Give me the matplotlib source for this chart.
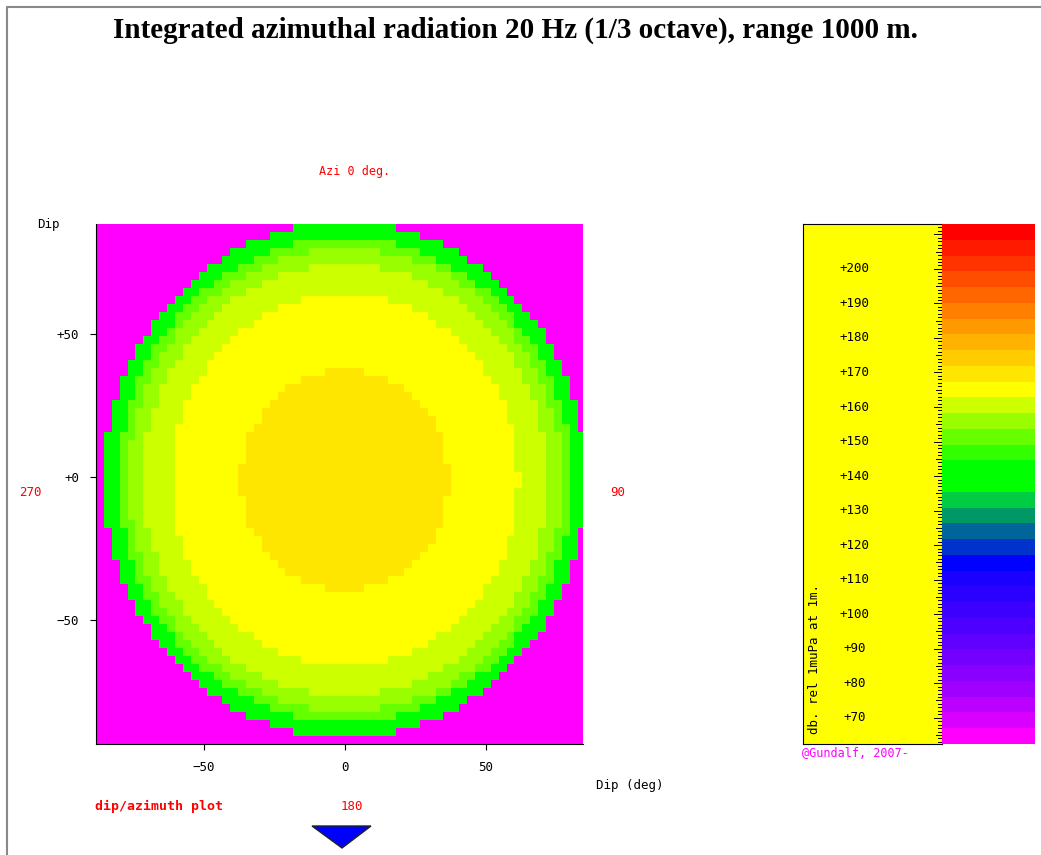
import numpy as np
import matplotlib
matplotlib.use("Agg")
import matplotlib.pyplot as plt
from matplotlib.colors import ListedColormap, BoundaryNorm
from matplotlib.patches import Polygon

# colour bands of the scale, top (loud) to bottom (quiet)
band_colors = ["#ff0000", "#ff1a00", "#ff3300", "#ff4d00", "#ff6600", "#ff8000",
               "#ff9900", "#ffb300", "#ffcc00", "#ffe600", "#ffff00", "#ccff00",
               "#99ff00", "#66ff00", "#33ff00", "#00ff00", "#00ff00", "#00cc44",
               "#009966", "#006699", "#0033cc", "#0000ff", "#1a00ff", "#2a00ff",
               "#3c00ff", "#4d00ff", "#6000ff", "#7300ff", "#8800ff", "#a000ff",
               "#bb00ff", "#d800ff", "#ff00ff"]
scale_top = 213.0
scale_bottom = 62.4
scale_labels = [70, 80, 90, 100, 110, 120, 130, 140, 150, 160, 170, 180, 190, 200]

# rings of the radiation pattern (fraction of the disk radius) and their level in dB
ring_radius = [0.43, 0.72, 0.84, 0.90, 0.94, 1.0]
ring_level = [169.0, 165.0, 160.0, 156.0, 151.0, 142.0]
outside_level = 64.0
disk_a, disk_b = 85.5, 90.0
cell = 2.8

ncol = len(band_colors)
edges = np.linspace(scale_bottom, scale_top, ncol + 1)
cmap = ListedColormap(band_colors[::-1])
norm = BoundaryNorm(edges, cmap.N)

xs = np.arange(-88.3, 84.4 + cell, cell)
ys = np.arange(-93.4, 88.5 + cell, cell)
X, Y = np.meshgrid(xs[:-1] + cell / 2, ys[:-1] + cell / 2)
R = np.sqrt((X / disk_a) ** 2 + ((Y + 1.0) / disk_b) ** 2)
Z = np.full(R.shape, outside_level)
for r, lv in zip(ring_radius[::-1], ring_level[::-1]):
    Z[R <= r] = lv

fig = plt.figure(figsize=(10.41, 8.55), dpi=100)
mono = "DejaVu Sans Mono"

ax = fig.add_axes([96 / 1041, 111 / 855, 487 / 1041, 520 / 855])
ax.pcolormesh(xs, ys, Z, cmap=cmap, norm=norm)
ax.set_xlim(-88.3, 84.4)
ax.set_ylim(-93.4, 88.5)
ax.set_xticks([-50, 0, 50])
ax.set_xticklabels(["\u221250", "0", "50"], fontfamily=mono, fontsize=9)
ax.set_yticks([-50, 0, 50])
ax.set_yticklabels(["\u221250", "+0", "+50"], fontfamily=mono, fontsize=9)
ax.tick_params(length=4, width=0.8, pad=8)
for s in ["top", "right"]:
    ax.spines[s].set_visible(False)

fig.text(515 / 1041, 1 - 30 / 855, "Integrated azimuthal radiation 20 Hz (1/3 octave), range 1000 m.",
         ha="center", va="center", fontfamily="Liberation Serif", fontweight="bold", fontsize=21)
fig.text(355 / 1041, 1 - 172 / 855, "Azi 0 deg.", color="red", ha="center", va="center",
         fontfamily=mono, fontsize=8.5)
fig.text(37 / 1041, 1 - 224 / 855, "Dip", ha="left", va="center", fontfamily=mono, fontsize=9)
fig.text(30 / 1041, 1 - 492 / 855, "270", color="red", ha="center", va="center", fontfamily=mono, fontsize=9)
fig.text(618 / 1041, 1 - 492 / 855, "90", color="red", ha="center", va="center", fontfamily=mono, fontsize=9)
fig.text(630 / 1041, 1 - 785 / 855, "Dip (deg)", ha="center", va="center", fontfamily=mono, fontsize=9)
fig.text(95 / 1041, 1 - 806 / 855, "dip/azimuth plot", color="red", ha="left", va="center",
         fontfamily=mono, fontsize=9.5, fontweight="bold")
fig.text(352 / 1041, 1 - 806 / 855, "180", color="red", ha="center", va="center", fontfamily=mono, fontsize=9)
fig.patches.append(Polygon([[312 / 1041, 1 - 826 / 855], [371 / 1041, 1 - 826 / 855],
                            [342 / 1041, 1 - 848 / 855]], closed=True, transform=fig.transFigure,
                           facecolor="#0000ff", edgecolor="#222222", lw=1))
# page frame
fig.add_artist(plt.Line2D([7 / 1041, 7 / 1041, 1], [0, 1 - 7 / 855, 1 - 7 / 855],
                          transform=fig.transFigure, color="#888888", lw=1.5))

# scale panel
pan = fig.add_axes([803 / 1041, 111 / 855, 139 / 1041, 520 / 855])
pan.set_facecolor("#ffff00")
pan.set_xlim(0, 1)
pan.set_ylim(scale_bottom, scale_top)
pan.set_xticks([])
pan.set_yticks([])
for v in range(63, 213):
    ln = 0.06 if v % 10 == 0 else (0.045 if v % 5 == 0 else 0.03)
    pan.plot([1 - ln, 1], [v, v], color="black", lw=0.7)
for v in scale_labels:
    pan.text(0.37, v, "+%d" % v, ha="center", va="center", fontfamily=mono, fontsize=9)
pan.text(0.08, scale_bottom + 3, "db. rel 1muPa at 1m.", rotation=90, ha="center", va="bottom",
         fontfamily=mono, fontsize=9)

bar = fig.add_axes([942 / 1041, 111 / 855, 93 / 1041, 520 / 855])
bar.pcolormesh([0, 1], edges, ((edges[:-1] + edges[1:]) / 2)[:, None], cmap=cmap, norm=norm)
bar.set_ylim(scale_bottom, scale_top)
bar.axis("off")
fig.text(802 / 1041, 1 - 753 / 855, "@Gundalf, 2007-", color="#ff00ff", ha="left", va="center",
         fontfamily=mono, fontsize=8.5)

fig.savefig("out.png", dpi=100)
